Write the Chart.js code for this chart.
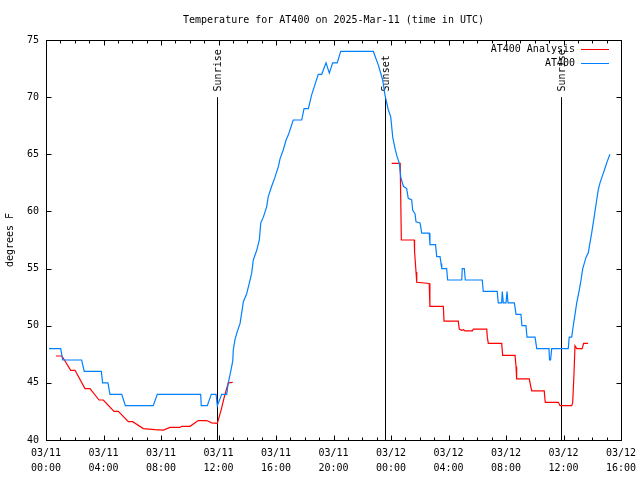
<!DOCTYPE html>
<html>
<head>
<meta charset="utf-8">
<title>Temperature for AT400</title>
<script src="https://cdn.jsdelivr.net/npm/chart.js@4.4.1/dist/chart.umd.min.js"></script>
<style>
  html, body { margin: 0; padding: 0; background: #fff; }
  canvas { display: block; }
</style>
</head>
<body>
<canvas id="tempChart" width="640" height="480"></canvas>
<script>
// x = hours since 03/11 00:00 UTC, y = degrees F
const stationHours = [0.21, 1.02, 1.16, 2.48, 2.66, 3.85, 3.94, 4.31, 4.45, 5.27, 5.52, 7.46, 7.74, 10.76, 10.80, 11.22, 11.50, 11.83, 11.92, 12.22,
  12.57, 12.68, 12.85, 12.99, 13.03, 13.15, 13.31, 13.50, 13.61, 13.73, 13.96, 14.14, 14.31, 14.42, 14.66, 14.84, 14.94, 15.12, 15.35, 15.46,
  15.70, 15.93, 16.16, 16.28, 16.51, 16.70, 16.86, 17.02, 17.20, 17.79, 17.95, 18.25, 18.48, 18.71, 18.94, 19.18, 19.48, 19.71, 19.94, 20.26,
  20.50, 22.77, 23.12, 23.42, 23.58, 23.81, 23.98, 24.12, 24.28, 24.40, 24.58, 24.68, 24.86, 25.09, 25.20, 25.44, 25.51, 25.67, 25.74, 26.02,
  26.14, 26.66, 26.71, 27.10, 27.18, 27.41, 27.48, 27.53, 27.87, 27.94, 28.92, 28.96, 29.10, 29.17, 30.35, 30.42, 31.39, 31.46, 31.70, 31.74,
  31.81, 32.00, 32.07, 32.14, 32.58, 32.70, 33.04, 33.11, 33.39, 33.46, 34.02, 34.14, 34.99, 35.03, 35.10, 35.18, 36.33, 36.40, 36.57, 36.68,
  36.80, 36.92, 37.08, 37.22, 37.34, 37.57, 37.73, 37.84, 37.96, 38.07, 38.19, 38.31, 38.42, 38.54, 38.73, 38.89, 39.05, 39.23]
const stationTemps = [48, 48, 47, 47, 46, 46, 45, 45, 44, 44, 43, 43, 44, 44, 43, 43, 44, 44, 43, 44,
  44, 45, 46, 46.9, 47.9, 48.8, 49.5, 50.2, 51.1, 52.1, 52.8, 53.7, 54.6, 55.75, 56.6, 57.5, 59.0, 59.5, 60.4, 61.3,
  62.2, 63.0, 63.9, 64.6, 65.4, 66.25, 66.7, 67.3, 68.0, 68.0, 69.0, 69.0, 70.2, 71.1, 72.0, 72.0, 73.0, 72.1, 73.0, 73.0,
  74.0, 74.0, 72.8, 71.5, 70.2, 68.9, 68.3, 66.5, 65.5, 64.9, 64.2, 63.0, 62.2, 62.0, 61.15, 61.0, 60.1, 59.8, 59.1, 59.0,
  58.1, 58.1, 57.1, 57.1, 56.05, 56.05, 55.45, 55.0, 55.0, 54.0, 54.0, 55.0, 55.0, 54.0, 54.0, 53.0, 53.0, 52.0, 52.0, 53.0,
  52.0, 52.0, 53.0, 52.0, 52.0, 51.0, 51.0, 50.0, 50.0, 49.0, 49.0, 48.0, 48.0, 47.0, 47.0, 48.0, 48.0, 49.0, 49.0, 50.0,
  51.0, 52.0, 53.0, 54.0, 55.0, 56.0, 56.4, 57.25, 58.1, 59.0, 60.0, 61.0, 61.9, 62.5, 63.2, 63.8, 64.4, 65.0]

// analysis has a gap between the two runs (null)
const analysisHours = [0.70, 1.11, 1.72, 2.02, 2.71, 3.06, 3.69, 3.99, 4.73, 5.03, 5.73, 6.03, 6.77, 7.58, 8.16, 8.63, 9.32, 9.44, 10.02, 10.59,
  11.18, 11.53, 11.92, 12.20, 12.39, 12.68, 12.99, 18.00,
  24.05, 24.64, 24.72, 25.62, 25.64, 25.74, 25.79, 26.66, 26.70, 26.71, 27.64, 27.69, 28.68, 28.75, 28.92, 29.03, 29.15, 29.66, 29.73, 30.66,
  30.70, 30.77, 31.70, 31.77, 32.63, 32.70, 32.74, 33.62, 33.72, 33.79, 34.66, 34.73, 35.64, 35.76, 36.57, 36.64, 36.73, 36.80, 36.92, 37.30,
  37.40, 37.70]
const analysisTemps = [47.35, 47.35, 46.1, 46.1, 44.5, 44.5, 43.5, 43.5, 42.5, 42.5, 41.6, 41.6, 41.0, 40.9, 40.87, 41.1, 41.1, 41.2, 41.2, 41.7,
  41.7, 41.5, 41.45, 42.7, 43.7, 45.0, 45.05, null,
  64.2, 64.2, 57.5, 57.5, 56.5, 54.7, 53.8, 53.7, 52.7, 51.7, 51.7, 50.4, 50.4, 49.7, 49.6, 49.65, 49.55, 49.55, 49.7, 49.7,
  49.0, 48.45, 48.45, 47.4, 47.4, 46.4, 45.35, 45.35, 44.7, 44.3, 44.3, 43.3, 43.3, 43.0, 43.0, 43.27, 45.8, 48.25, 48.0, 48.0,
  48.45, 48.45]

const tickHours = [0, 4, 8, 12, 16, 20, 24, 28, 32, 36, 40]
const tickDates = ["03/11", "03/11", "03/11", "03/11", "03/11", "03/11", "03/12", "03/12", "03/12", "03/12", "03/12"]
const tickTimes = ["00:00", "04:00", "08:00", "12:00", "16:00", "20:00", "00:00", "04:00", "08:00", "12:00", "16:00"]
const yTicks = [40, 45, 50, 55, 60, 65, 70, 75]

const sunHours = [11.92, 23.58, 35.85]
const sunLabels = ["Sunrise", "Sunset", "Sunrise"]
const sunLineTop = 70
const sunLabelBase = 70.5

const FONT = "'DejaVu Sans Mono', 'Liberation Mono', monospace"

function toPoints(hours, temps) {
  return hours.map((h, i) => ({ x: h, y: temps[i] }))
}

// gnuplot 느낌: 테두리, 안쪽 눈금, 일출/일몰 선, 범례
const gnuplotFrame = {
  id: "gnuplotFrame",
  beforeDatasetsDraw(chart) {
    const ctx = chart.ctx
    const xs = chart.scales.x
    const ys = chart.scales.y
    ctx.save()
    ctx.strokeStyle = "#000"
    ctx.fillStyle = "#000"
    ctx.lineWidth = 1
    ctx.font = "10px " + FONT
    sunHours.forEach((h, i) => {
      const px = Math.round(xs.getPixelForValue(h)) + 0.5
      ctx.beginPath()
      ctx.moveTo(px, ys.getPixelForValue(40))
      ctx.lineTo(px, ys.getPixelForValue(sunLineTop))
      ctx.stroke()
      ctx.save()
      ctx.translate(px + 1, ys.getPixelForValue(sunLabelBase))
      ctx.rotate(-Math.PI / 2)
      ctx.textAlign = "left"
      ctx.textBaseline = "middle"
      ctx.fillText(sunLabels[i], 0, 0)
      ctx.restore()
    })
    ctx.restore()
  },
  afterDatasetsDraw(chart) {
    const ctx = chart.ctx
    const xs = chart.scales.x
    const ys = chart.scales.y
    const a = chart.chartArea
    const left = Math.round(a.left) + 0.5
    const right = Math.round(a.right) + 0.5
    const top = Math.round(a.top) + 0.5
    const bottom = Math.round(a.bottom) + 0.5
    ctx.save()
    ctx.strokeStyle = "#000"
    ctx.lineWidth = 1
    ctx.beginPath()
    for (let h = xs.min; h <= xs.max; h++) {
      const px = Math.round(xs.getPixelForValue(h)) + 0.5
      const len = h % 4 === 0 ? 5 : 3
      ctx.moveTo(px, bottom)
      ctx.lineTo(px, bottom - len)
      ctx.moveTo(px, top)
      ctx.lineTo(px, top + len)
    }
    yTicks.forEach((v) => {
      const py = Math.round(ys.getPixelForValue(v)) + 0.5
      ctx.moveTo(left, py)
      ctx.lineTo(left + 5, py)
      ctx.moveTo(right, py)
      ctx.lineTo(right - 5, py)
    })
    ctx.stroke()
    ctx.strokeRect(left, top, right - left, bottom - top)

    // 범례 (텍스트 먼저, 그 다음 선)
    ctx.font = "10px " + FONT
    ctx.fillStyle = "#000"
    ctx.textAlign = "right"
    ctx.textBaseline = "middle"
    chart.data.datasets.forEach((ds, i) => {
      const y = Math.round(a.top + 9 + i * 14) + 0.5
      ctx.fillText(ds.label, a.right - 46, y)
      ctx.strokeStyle = ds.borderColor
      ctx.beginPath()
      ctx.moveTo(a.right - 40, y)
      ctx.lineTo(a.right - 12, y)
      ctx.stroke()
    })
    ctx.restore()
  },
}

const chartCtx = document.getElementById("tempChart")
window.tempChart = new Chart(chartCtx, {
  type: "line",
  data: {
    datasets: [
      {
        label: "AT400 Analysis",
        data: toPoints(analysisHours, analysisTemps),
        borderColor: "#ff0000",
        borderWidth: 1.2,
        pointRadius: 0,
        tension: 0,
        spanGaps: false,
        order: 1,
      },
      {
        label: "AT400",
        data: toPoints(stationHours, stationTemps),
        borderColor: "#0080ff",
        borderWidth: 1.2,
        pointRadius: 0,
        tension: 0,
        order: 0,
      },
    ],
  },
  options: {
    responsive: false,
    animation: false,
    events: [],
    layout: { padding: { left: 0, right: 19, top: 0, bottom: 0 } },
    plugins: {
      legend: { display: false },
      tooltip: { enabled: false },
      title: {
        display: true,
        fullSize: false,
        text: "Temperature for AT400 on 2025-Mar-11 (time in UTC)",
        color: "#000",
        font: { family: FONT, size: 10, weight: "normal", lineHeight: 1.2 },
        padding: { top: 14, bottom: 14 },
      },
    },
    scales: {
      x: {
        type: "linear",
        min: 0,
        max: 40,
        afterBuildTicks: (s) => {
          s.ticks = tickHours.map((v) => ({ value: v }))
        },
        afterFit: (s) => {
          s.height = 40
          s.paddingLeft = 0
          s.paddingRight = 0
        },
        grid: { display: false, drawTicks: false },
        border: { display: false },
        ticks: {
          autoSkip: false,
          maxRotation: 0,
          padding: 6,
          color: "#000",
          font: { family: FONT, size: 10, lineHeight: 1.5 },
          callback: (value, index) => [tickDates[index], tickTimes[index]],
        },
      },
      y: {
        min: 40,
        max: 75,
        afterBuildTicks: (s) => {
          s.ticks = yTicks.map((v) => ({ value: v }))
        },
        afterFit: (s) => {
          s.width = 46
          s.paddingTop = 0
          s.paddingBottom = 0
        },
        grid: { display: false, drawTicks: false },
        border: { display: false },
        ticks: {
          padding: 7,
          color: "#000",
          font: { family: FONT, size: 10 },
        },
        title: {
          display: true,
          text: "degrees F",
          color: "#000",
          font: { family: FONT, size: 10, lineHeight: 1.2 },
          padding: { top: 4, bottom: 0 },
        },
      },
    },
  },
  plugins: [gnuplotFrame],
})
</script>
</body>
</html>
